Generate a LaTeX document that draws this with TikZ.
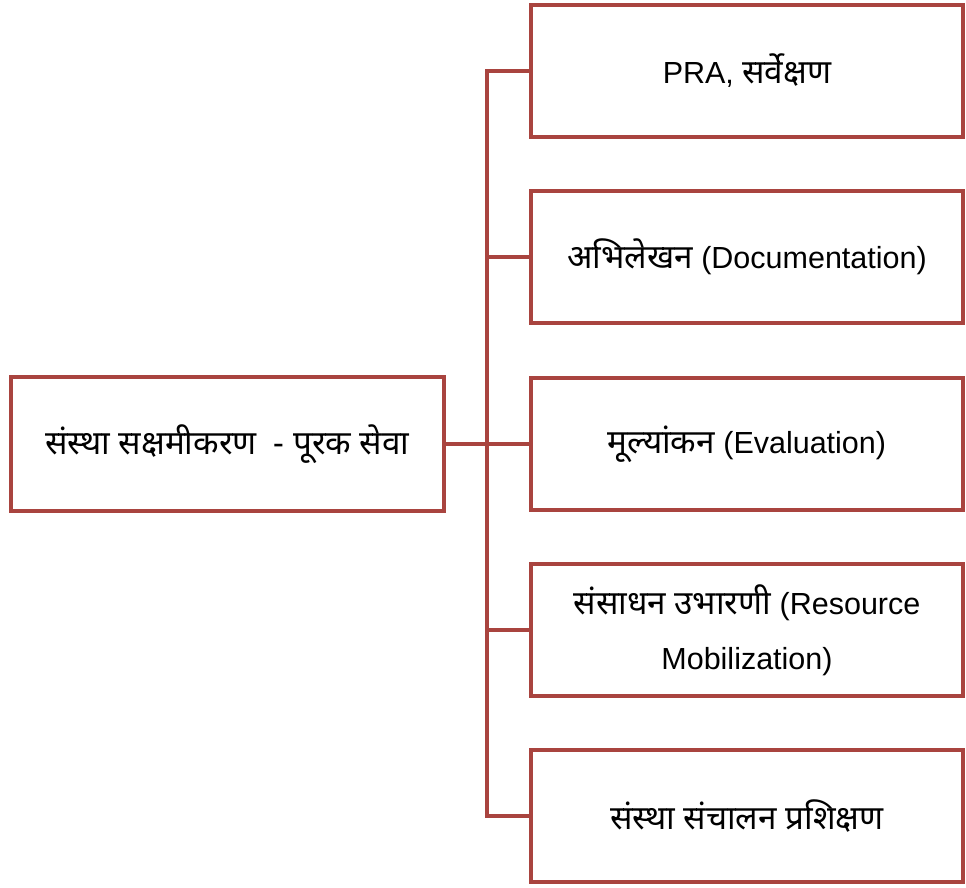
\documentclass[tikz,border=0pt]{standalone}
\usepackage{fontspec}
\setmainfont{Liberation Sans}
\newfontfamily\deva[Script=Devanagari,Scale=1.09]{Noto Sans}
\usetikzlibrary{positioning}
\definecolor{boxred}{HTML}{A9443F}

\begin{document}
\begin{tikzpicture}[x=1pt,y=-1pt,
    box/.style={draw=boxred,line width=4.5pt,minimum width=432pt,minimum height=132pt,
      align=center,font=\fontsize{30.5}{55}\selectfont,inner sep=0pt},
    link/.style={draw=boxred,line width=4.5pt}]
  \useasboundingbox (0,0) rectangle (966,887);
  \node[box,minimum width=433pt,minimum height=134pt] (cap) at (227.5,444) {\deva संस्था सक्षमीकरण\ \ - पूरक सेवा};
  \node[box] (pra) at (747,71) {PRA, {\deva सर्वेक्षण}};
  \node[box] (doc) at (747,257) {{\deva अभिलेखन} (Documentation)};
  \node[box] (eval) at (747,444) {{\deva मूल्यांकन} (Evaluation)};
  \node[box] (resmob) at (747,630) {{\deva संसाधन उभारणी} (Resource\\Mobilization)};
  \node[box] (train) at (747,816) {\deva संस्था संचालन प्रशिक्षण};
  \coordinate (busx) at (487,444);
  \draw[link] (pra.west) -- (pra.west -| busx) -- (train.west -| busx) -- (train.west);
  \draw[link] (cap.east) -- (busx);
  \foreach \b in {doc,eval,resmob}
    \draw[link] (\b.west -| busx) -- (\b.west);
\end{tikzpicture}
\end{document}
